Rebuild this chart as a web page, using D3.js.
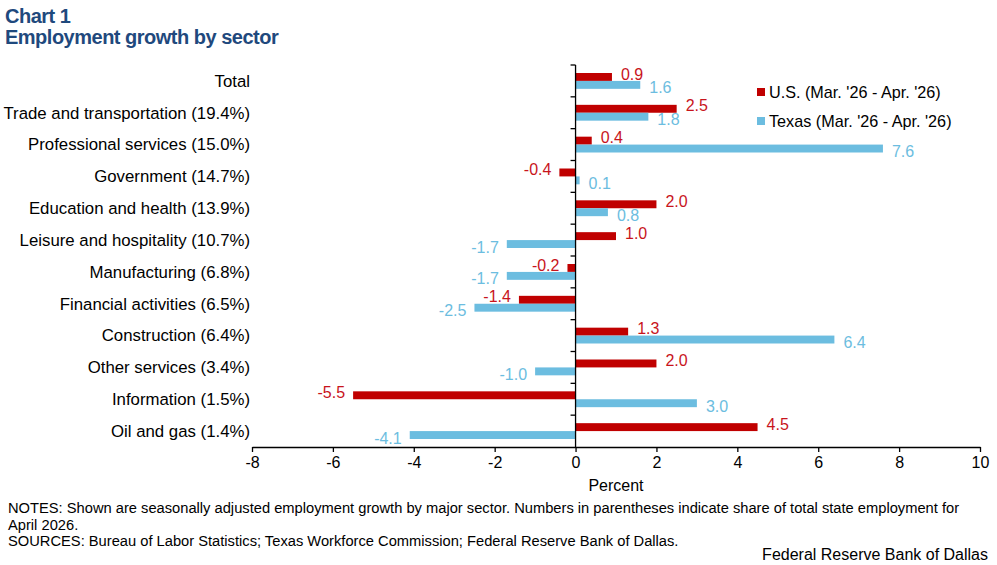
<!DOCTYPE html>
<html>
<head>
<meta charset="utf-8">
<script src="https://cdn.jsdelivr.net/npm/d3@7"></script>
<style>
  body { margin: 0; background: #fff; font-family: "Liberation Sans", Arial, sans-serif; }
  svg text { font-family: "Liberation Sans", Arial, sans-serif; }
</style>
</head>
<body>
<div id="chart"></div>
<script>
// categories, top to bottom
var sectors = ["Total", "Trade and transportation (19.4%)", "Professional services (15.0%)",
  "Government (14.7%)", "Education and health (13.9%)", "Leisure and hospitality (10.7%)",
  "Manufacturing (6.8%)", "Financial activities (6.5%)", "Construction (6.4%)",
  "Other services (3.4%)", "Information (1.5%)", "Oil and gas (1.4%)"];
var us_values = [0.9, 2.5, 0.4, -0.4, 2.0, 1.0, -0.2, -1.4, 1.3, 2.0, -5.5, 4.5];
var tx_values = [1.6, 1.8, 7.6, 0.1, 0.8, -1.7, -1.7, -2.5, 6.4, -1.0, 3.0, -4.1];
var series_names = ["U.S. (Mar. '26 - Apr. '26)", "Texas (Mar. '26 - Apr. '26)"];
var x_ticks = [-8, -6, -4, -2, 0, 2, 4, 6, 8, 10];

var colors = ["#C00000", "#6CBDE0"];
var label_colors = ["#C8141C", "#6CBDE0"];

var width = 997, height = 565;
var margin = {top: 65, right: 17, bottom: 118, left: 252};

// plain hyphen for negatives, like the original
function fmt1(v) { return v.toFixed(1); }

var svg = d3.select("#chart").append("svg")
    .attr("width", width)
    .attr("height", height);

// titles
svg.append("text").attr("x", 5).attr("y", 23)
    .attr("fill", "#1F497D").attr("font-weight", "bold")
    .attr("font-size", "20px").attr("letter-spacing", "-0.5")
    .text("Chart 1");
svg.append("text").attr("x", 5).attr("y", 44)
    .attr("fill", "#1F497D").attr("font-weight", "bold")
    .attr("font-size", "20px").attr("letter-spacing", "-0.5")
    .text("Employment growth by sector");

var x = d3.scaleLinear()
    .domain([-8, 10])
    .range([margin.left, width - margin.right]);

var y = d3.scaleBand()
    .domain(sectors)
    .range([margin.top, height - margin.bottom])
    .padding(0);

var inner = d3.scaleBand()
    .domain([0, 1])
    .range([8, y.bandwidth() - 8]);

var data = sectors.map(function(s, i) {
  return {sector: s, values: [us_values[i], tx_values[i]]};
});

// bars
var rows = svg.selectAll("g.row")
    .data(data)
    .enter()
    .append("g")
    .attr("class", "row")
    .attr("transform", function(d) { return "translate(0," + y(d.sector) + ")"; });

rows.selectAll("rect")
    .data(function(d) { return d.values.map(function(v, k) { return {v: v, k: k}; }); })
    .enter()
    .append("rect")
    .attr("x", function(d) { return x(Math.min(0, d.v)); })
    .attr("y", function(d) { return inner(d.k); })
    .attr("width", function(d) { return Math.abs(x(d.v) - x(0)); })
    .attr("height", inner.bandwidth())
    .attr("fill", function(d) { return colors[d.k]; });

// value labels
rows.selectAll("text.val")
    .data(function(d) { return d.values.map(function(v, k) { return {v: v, k: k}; }); })
    .enter()
    .append("text")
    .attr("class", "val")
    .attr("x", function(d) { return d.v >= 0 ? x(d.v) + 9 : x(d.v) - 8; })
    .attr("y", function(d) { return inner(d.k) + inner.bandwidth() / 2 + (d.k == 0 ? -3 : 3); })
    .attr("dy", "0.35em")
    .attr("text-anchor", function(d) { return d.v >= 0 ? "start" : "end"; })
    .attr("font-size", "16px")
    .attr("fill", function(d) { return label_colors[d.k]; })
    .text(function(d) { return fmt1(d.v); });

// category labels
svg.selectAll("text.cat")
    .data(sectors)
    .enter()
    .append("text")
    .attr("class", "cat")
    .attr("x", 250)
    .attr("y", function(d) { return y(d) + y.bandwidth() / 2; })
    .attr("dy", "0.35em")
    .attr("text-anchor", "end")
    .attr("font-size", "16.8px")
    .attr("fill", "#000")
    .text(function(d) { return d; });

// vertical axis at zero with ticks on band boundaries
var bounds = sectors.map(function(s) { return y(s); });
svg.append("line")
    .attr("x1", x(0)).attr("x2", x(0))
    .attr("y1", margin.top).attr("y2", height - margin.bottom)
    .attr("stroke", "#000").attr("stroke-width", 1.3);
svg.selectAll("line.ytick")
    .data(bounds)
    .enter()
    .append("line")
    .attr("class", "ytick")
    .attr("x1", x(0) - 5).attr("x2", x(0))
    .attr("y1", function(d) { return d; }).attr("y2", function(d) { return d; })
    .attr("stroke", "#000").attr("stroke-width", 1.3);

// x axis
var xAxis = svg.append("g")
    .attr("transform", "translate(0," + (height - margin.bottom) + ")")
    .call(d3.axisBottom(x).tickValues(x_ticks).tickSize(5).tickSizeOuter(0).tickPadding(5)
      .tickFormat(function(d) { return String(d); }));
xAxis.select(".domain").attr("stroke-width", 1.3);
xAxis.selectAll(".tick line").attr("stroke-width", 1.3);
xAxis.selectAll("text").attr("font-size", "16px").attr("fill", "#000")
    .attr("font-family", "Liberation Sans, Arial, sans-serif");

svg.append("text")
    .attr("x", (x(-8) + x(10)) / 2)
    .attr("y", 491)
    .attr("text-anchor", "middle")
    .attr("font-size", "16px")
    .text("Percent");

// legend
var legend = svg.selectAll("g.legend")
    .data(series_names)
    .enter()
    .append("g")
    .attr("class", "legend")
    .attr("transform", function(d, i) { return "translate(757," + (92 + i * 29) + ")"; });
legend.append("rect")
    .attr("x", 0).attr("y", -4)
    .attr("width", 8).attr("height", 8)
    .attr("fill", function(d, i) { return colors[i]; });
legend.append("text")
    .attr("x", 12).attr("y", 0)
    .attr("dy", "0.35em")
    .attr("font-size", "16.2px")
    .text(function(d) { return d; });

// notes
var notes = [
  "NOTES: Shown are seasonally adjusted employment growth by major sector. Numbers in parentheses indicate share of total state employment for",
  "April 2026.",
  "SOURCES: Bureau of Labor Statistics; Texas Workforce Commission; Federal Reserve Bank of Dallas."
];
svg.selectAll("text.note")
    .data(notes)
    .enter()
    .append("text")
    .attr("class", "note")
    .attr("x", 8)
    .attr("y", function(d, i) { return 513 + i * 16.5; })
    .attr("font-size", "14.7px")
    .text(function(d) { return d; });

svg.append("text")
    .attr("x", 988).attr("y", 560)
    .attr("text-anchor", "end")
    .attr("font-size", "16px")
    .text("Federal Reserve Bank of Dallas");
</script>
</body>
</html>
